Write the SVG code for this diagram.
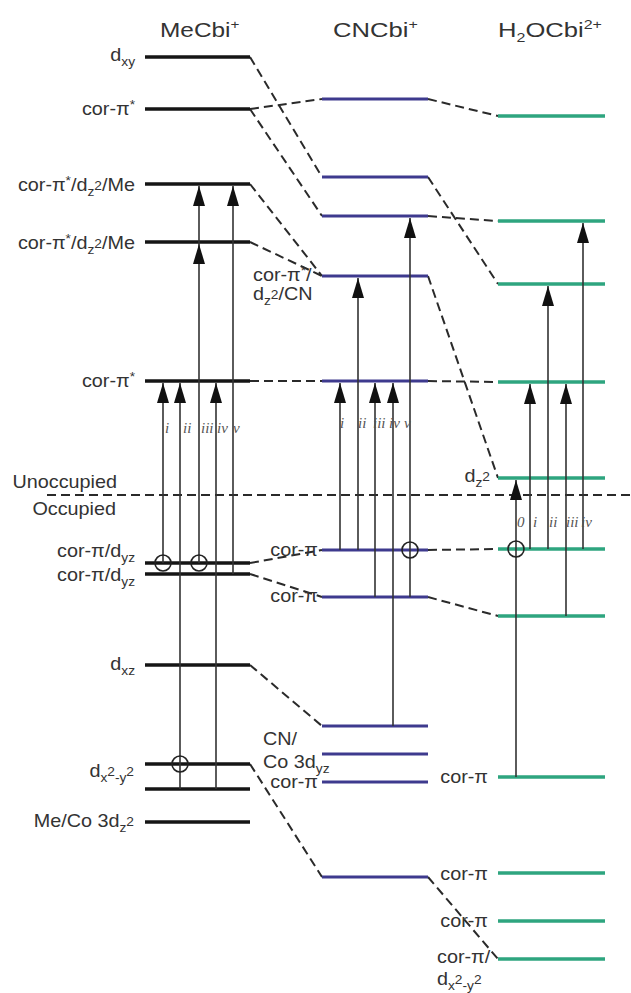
<svg xmlns="http://www.w3.org/2000/svg" width="631" height="993" viewBox="0 0 631 993">
<style>
.me{stroke:#151515;stroke-width:3.5;fill:none}
.cn{stroke:#3e3a8e;stroke-width:3.2;fill:none}
.aq{stroke:#2ea57f;stroke-width:3.5;fill:none}
.dash{stroke:#2a2a2a;stroke-width:2;stroke-dasharray:9 5;fill:none}
.arr{stroke:#333;stroke-width:1.6;fill:none;marker-end:url(#ah)}
.circ{stroke:#222;stroke-width:1.6;fill:none}
.lbl{font-family:"Liberation Sans",Arial,sans-serif;font-size:18px;fill:#333}
.ttl{font-family:"Liberation Sans",Arial,sans-serif;font-size:20px;fill:#333}
.s{font-size:12.5px}
.rn{font-family:"Liberation Serif","Times New Roman",serif;font-style:italic;font-size:15px;fill:#555}
</style>
<defs>
<marker id="ah" viewBox="0 0 20 12" refX="20" refY="6" markerWidth="20" markerHeight="12" markerUnits="userSpaceOnUse" orient="auto">
<path d="M0,0 L20,6 L0,12 z" fill="#111"/>
</marker>
</defs>
<rect width="631" height="993" fill="#fff"/>

<!-- titles -->
<g id="titles">
<text class="ttl" transform="translate(160,37) scale(1.22,1)">MeCbi<tspan class="s" dy="-8">+</tspan></text>
<text class="ttl" transform="translate(333,37) scale(1.28,1)">CNCbi<tspan class="s" dy="-8">+</tspan></text>
<text class="ttl" transform="translate(498,37) scale(1.28,1)">H<tspan class="s" dy="5">2</tspan><tspan dy="-5">OCbi</tspan><tspan class="s" dy="-8">2+</tspan></text>
</g>

<!-- connectors -->
<g id="connectors">
<path class="dash" d="M250,57 L322,177"/>
<path class="dash" d="M250,109 L322,99"/>
<path class="dash" d="M250,109 L322,216"/>
<path class="dash" d="M250,184 L322,276"/>
<path class="dash" d="M250,242 L322,276"/>
<path class="dash" d="M250,381 L322,381"/>
<path class="dash" d="M250,563 L322,550"/>
<path class="dash" d="M250,574 L322,597"/>
<path class="dash" d="M250,665 L322,726"/>
<path class="dash" d="M250,764 L322,877"/>
<path class="dash" d="M428,99 L498,116"/>
<path class="dash" d="M428,177 L498,284"/>
<path class="dash" d="M428,216 L498,221"/>
<path class="dash" d="M428,276 L498,478"/>
<path class="dash" d="M428,381 L498,382"/>
<path class="dash" d="M428,550 L498,549"/>
<path class="dash" d="M428,597 L498,616"/>
<path class="dash" d="M428,877 L498,959"/>
<path id="divider" class="dash" d="M47,495 L631,495"/>
</g>

<!-- MeCbi levels -->
<g id="me-dxy"><line class="me" x1="145" y1="57" x2="250" y2="57"/>
<text class="lbl" transform="translate(135,61) scale(1.1,1)" text-anchor="end">d<tspan class="s" dy="5">xy</tspan></text></g>
<g id="me-corpistar1"><line class="me" x1="145" y1="109" x2="250" y2="109"/>
<text class="lbl" transform="translate(135,115) scale(1.1,1)" text-anchor="end">cor-π<tspan class="s" dy="-6">*</tspan></text></g>
<g id="me-corpistar-dz2-me1"><line class="me" x1="145" y1="184" x2="250" y2="184"/>
<text class="lbl" transform="translate(135,191) scale(1.1,1)" text-anchor="end">cor-π<tspan class="s" dy="-6">*</tspan><tspan dy="6">/d</tspan><tspan class="s" dy="5">z</tspan><tspan class="s" dy="-6">2</tspan><tspan dy="1">/Me</tspan></text></g>
<g id="me-corpistar-dz2-me2"><line class="me" x1="145" y1="242" x2="250" y2="242"/>
<text class="lbl" transform="translate(135,249) scale(1.1,1)" text-anchor="end">cor-π<tspan class="s" dy="-6">*</tspan><tspan dy="6">/d</tspan><tspan class="s" dy="5">z</tspan><tspan class="s" dy="-6">2</tspan><tspan dy="1">/Me</tspan></text></g>
<g id="me-corpistar2"><line class="me" x1="145" y1="381" x2="250" y2="381"/>
<text class="lbl" transform="translate(135,387) scale(1.1,1)" text-anchor="end">cor-π<tspan class="s" dy="-6">*</tspan></text></g>
<g id="me-corpi-dyz1"><line class="me" x1="145" y1="563" x2="250" y2="563"/>
<text class="lbl" transform="translate(135,557) scale(1.1,1)" text-anchor="end">cor-π/d<tspan class="s" dy="5">yz</tspan></text></g>
<g id="me-corpi-dyz2"><line class="me" x1="145" y1="574" x2="250" y2="574"/>
<text class="lbl" transform="translate(135,581) scale(1.1,1)" text-anchor="end">cor-π/d<tspan class="s" dy="5">yz</tspan></text></g>
<g id="me-dxz"><line class="me" x1="145" y1="665" x2="250" y2="665"/>
<text class="lbl" transform="translate(135,670) scale(1.1,1)" text-anchor="end">d<tspan class="s" dy="5">xz</tspan></text></g>
<g id="me-dx2y2"><line class="me" x1="145" y1="764" x2="250" y2="764"/>
<text class="lbl" transform="translate(134,777) scale(1.1,1)" text-anchor="end">d<tspan class="s" dy="5">x</tspan><tspan class="s" dy="-6">2</tspan><tspan class="s" dy="6">-y</tspan><tspan class="s" dy="-6">2</tspan></text></g>
<g id="me-level789"><line class="me" x1="145" y1="789" x2="250" y2="789"/></g>
<g id="me-meco3dz2"><line class="me" x1="145" y1="822" x2="250" y2="822"/>
<text class="lbl" transform="translate(134,827) scale(1.1,1)" text-anchor="end">Me/Co 3d<tspan class="s" dy="5">z</tspan><tspan class="s" dy="-6">2</tspan></text></g>

<!-- CNCbi levels -->
<g id="cn-99"><line class="cn" x1="322" y1="99" x2="428" y2="99"/></g>
<g id="cn-177"><line class="cn" x1="322" y1="177" x2="428" y2="177"/></g>
<g id="cn-216"><line class="cn" x1="322" y1="216" x2="428" y2="216"/></g>
<g id="cn-276"><line class="cn" x1="322" y1="276" x2="428" y2="276"/>
<text class="lbl" transform="translate(253,281) scale(1.1,1)">cor-π<tspan class="s" dy="-6">*</tspan><tspan dy="6">/</tspan></text>
<text class="lbl" transform="translate(253,300) scale(1.1,1)">d<tspan class="s" dy="5">z</tspan><tspan class="s" dy="-6">2</tspan><tspan dy="1">/CN</tspan></text></g>
<g id="cn-381"><line class="cn" x1="322" y1="381" x2="428" y2="381"/></g>
<g id="cn-550"><line class="cn" x1="322" y1="550" x2="428" y2="550"/>
<text class="lbl" transform="translate(318,556) scale(1.1,1)" text-anchor="end">cor-π</text></g>
<g id="cn-597"><line class="cn" x1="322" y1="597" x2="428" y2="597"/>
<text class="lbl" transform="translate(318,602) scale(1.1,1)" text-anchor="end">cor-π</text></g>
<g id="cn-726"><line class="cn" x1="322" y1="726" x2="428" y2="726"/></g>
<g id="cn-754"><line class="cn" x1="322" y1="754" x2="428" y2="754"/>
<text class="lbl" transform="translate(263,745) scale(1.1,1)">CN/</text>
<text class="lbl" transform="translate(263,768) scale(1.1,1)">Co 3d<tspan class="s" dy="5">yz</tspan></text></g>
<g id="cn-782"><line class="cn" x1="322" y1="782" x2="428" y2="782"/>
<text class="lbl" transform="translate(318,788) scale(1.1,1)" text-anchor="end">cor-π</text></g>
<g id="cn-877"><line class="cn" x1="322" y1="877" x2="428" y2="877"/></g>

<!-- H2OCbi levels -->
<g id="aq-116"><line class="aq" x1="498" y1="116" x2="605" y2="116"/></g>
<g id="aq-221"><line class="aq" x1="498" y1="221" x2="605" y2="221"/></g>
<g id="aq-284"><line class="aq" x1="498" y1="284" x2="605" y2="284"/></g>
<g id="aq-382"><line class="aq" x1="498" y1="382" x2="605" y2="382"/></g>
<g id="aq-478"><line class="aq" x1="498" y1="478" x2="605" y2="478"/>
<text class="lbl" transform="translate(490,482) scale(1.1,1)" text-anchor="end">d<tspan class="s" dy="5">z</tspan><tspan class="s" dy="-6">2</tspan></text></g>
<g id="aq-549"><line class="aq" x1="498" y1="549" x2="605" y2="549"/></g>
<g id="aq-616"><line class="aq" x1="498" y1="616" x2="605" y2="616"/></g>
<g id="aq-777"><line class="aq" x1="498" y1="777" x2="605" y2="777"/>
<text class="lbl" transform="translate(488,783) scale(1.1,1)" text-anchor="end">cor-π</text></g>
<g id="aq-873"><line class="aq" x1="498" y1="873" x2="605" y2="873"/>
<text class="lbl" transform="translate(488,880) scale(1.1,1)" text-anchor="end">cor-π</text></g>
<g id="aq-921"><line class="aq" x1="498" y1="921" x2="605" y2="921"/>
<text class="lbl" transform="translate(488,927) scale(1.1,1)" text-anchor="end">cor-π</text></g>
<g id="aq-959"><line class="aq" x1="498" y1="959" x2="605" y2="959"/>
<text class="lbl" transform="translate(437,963) scale(1.1,1)">cor-π/</text>
<text class="lbl" transform="translate(437,985) scale(1.1,1)">d<tspan class="s" dy="5">x</tspan><tspan class="s" dy="-6">2</tspan><tspan class="s" dy="6">-y</tspan><tspan class="s" dy="-6">2</tspan></text></g>

<!-- occupancy labels -->
<g id="occupancy">
<text class="lbl" transform="translate(117,488) scale(1.1,1)" text-anchor="end">Unoccupied</text>
<text class="lbl" transform="translate(116,515) scale(1.1,1)" text-anchor="end">Occupied</text>
</g>

<!-- transitions -->
<g id="transitions">
<path class="arr" d="M163,563 L163,383"/>
<path class="arr" d="M180,789 L180,383"/>
<path class="arr" d="M199,563 L199,244"/>
<path class="arr" d="M199,244 L199,186"/>
<path class="arr" d="M216,789 L216,383"/>
<path class="arr" d="M233,574 L233,186"/>
<circle class="circ" cx="163" cy="563" r="8"/>
<circle class="circ" cx="199" cy="563" r="8"/>
<circle class="circ" cx="180" cy="764" r="8"/>

<path class="arr" d="M340,550 L340,383"/>
<path class="arr" d="M358,550 L358,278"/>
<path class="arr" d="M375,597 L375,383"/>
<path class="arr" d="M393,726 L393,383"/>
<path class="arr" d="M410,597 L410,218"/>
<circle class="circ" cx="410" cy="550" r="8"/>

<path class="arr" d="M516,777 L516,480"/>
<path class="arr" d="M530,549 L530,384"/>
<path class="arr" d="M548,549 L548,286"/>
<path class="arr" d="M566,616 L566,384"/>
<path class="arr" d="M583,549 L583,223"/>
<circle class="circ" cx="516" cy="549" r="8"/>
</g>

<g id="transition-labels">
<text class="rn" x="165" y="433">i</text>
<text class="rn" x="183" y="433">ii</text>
<text class="rn" x="201" y="433">iii</text>
<text class="rn" x="217" y="433">iv</text>
<text class="rn" x="233" y="433">v</text>
<text class="rn" x="340" y="428">i</text>
<text class="rn" x="358" y="428">ii</text>
<text class="rn" x="373" y="428">iii</text>
<text class="rn" x="389" y="428">iv</text>
<text class="rn" x="404" y="428">v</text>
<text class="rn" x="517" y="527">0</text>
<text class="rn" x="533" y="527">i</text>
<text class="rn" x="549" y="527">ii</text>
<text class="rn" x="566" y="527">iii</text>
<text class="rn" x="581" y="527">iv</text>
</g>
</svg>
